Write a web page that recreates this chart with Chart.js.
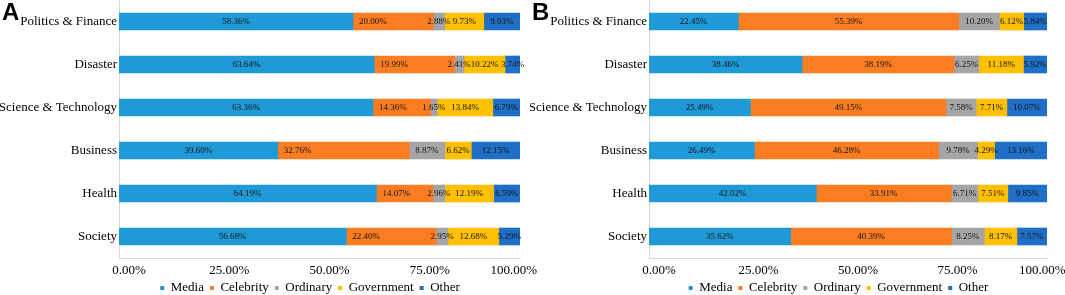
<!DOCTYPE html>
<html>
<head>
<meta charset="utf-8">
<script src="https://cdn.jsdelivr.net/npm/chart.js@4"></script>
<style>
  html, body { margin: 0; padding: 0; background: #fff; }
  #wrap { position: relative; width: 1065px; height: 295px; overflow: hidden; }
  .panel { position: absolute; top: 0; height: 295px; }
  #boxA { left: 0; width: 560px; }
  #boxB { left: 530px; width: 535px; }
  .tag { position: absolute; top: -2px; font: bold 24px "Liberation Sans", Arial, sans-serif; color: #000; }
</style>
</head>
<body>
<div id="wrap">
  <div class="panel" id="boxB"><canvas id="chartB"></canvas></div>
  <div class="panel" id="boxA"><canvas id="chartA"></canvas></div>
  <div class="tag" style="left:2px">A</div>
  <div class="tag" style="left:532px">B</div>
</div>
<script>
const categories = ['Politics & Finance', 'Disaster', 'Science & Technology', 'Business', 'Health', 'Society'];
const seriesNames = ['Media', 'Celebrity', 'Ordinary', 'Government', 'Other'];
const seriesColors = ['#1f9ad7', '#fb7d21', '#a5a5a5', '#ffc000', '#1f6fc6'];

// panel A
const mediaA = [58.36, 63.64, 63.36, 39.60, 64.19, 56.68];
const celebrityA = [20.00, 19.99, 14.36, 32.76, 14.07, 22.40];
const ordinaryA = [2.88, 2.41, 1.65, 8.87, 2.96, 2.95];
const governmentA = [9.73, 10.22, 13.84, 6.62, 12.19, 12.68];
const otherA = [9.03, 3.74, 6.79, 12.15, 6.59, 5.29];

// panel B
const mediaB = [22.45, 38.46, 25.49, 26.49, 42.02, 35.62];
const celebrityB = [55.39, 38.19, 49.15, 46.28, 33.91, 40.39];
const ordinaryB = [10.20, 6.25, 7.58, 9.78, 6.71, 8.25];
const governmentB = [6.12, 11.18, 7.71, 4.29, 7.51, 8.17];
const otherB = [5.84, 5.92, 10.07, 13.16, 9.85, 7.57];

const xTicks = [0, 25, 50, 75, 100];

const serif = '"Liberation Serif", "Times New Roman", serif';
Chart.defaults.font.family = serif;
Chart.defaults.color = '#000';

// draws the percentage in each segment
const segLabels = {
  id: 'segLabels',
  afterDatasetsDraw(chart, args, opts) {
    const ctx = chart.ctx;
    ctx.save();
    ctx.font = '9px ' + serif;
    ctx.fillStyle = '#111';
    ctx.textBaseline = 'middle';
    chart.data.datasets.forEach((ds, i) => {
      const meta = chart.getDatasetMeta(i);
      meta.data.forEach((bar, j) => {
        const txt = ds.data[j].toFixed(2) + '%';
        if ((opts.startAligned || []).includes(i)) {
          ctx.textAlign = 'left';
          ctx.fillText(txt, Math.min(bar.x, bar.base) + 6, bar.y);
        } else {
          ctx.textAlign = 'center';
          ctx.fillText(txt, (bar.x + bar.base) / 2, bar.y);
        }
      });
    });
    ctx.restore();
  }
};

// centre the legend under the labels + plot, not the whole canvas
const legendShift = {
  id: 'legendShift',
  afterLayout(chart) {
    const lg = chart.legend;
    lg.left = chart.chartArea.left - 19;
    lg.right = chart.chartArea.right;
    lg.width = lg.right - lg.left;
  }
};

function makeChart(id, values, padR, lastPad, startAligned) {
  const ctx = document.getElementById(id).getContext('2d');
  return new Chart(ctx, {
    type: 'bar',
    data: {
      labels: categories,
      datasets: values.map((v, i) => ({
        label: seriesNames[i],
        data: v,
        backgroundColor: seriesColors[i],
        borderWidth: 0,
        barThickness: 17
      }))
    },
    options: {
      indexAxis: 'y',
      responsive: true,
      maintainAspectRatio: false,
      animation: false,
      layout: { padding: { left: 0, right: padR, top: 0, bottom: -9.5 } },
      plugins: {
        legend: {
          position: 'bottom',
          labels: { boxWidth: 4, boxHeight: 4, padding: 6, font: { size: 13 } }
        },
        tooltip: { enabled: false },
        segLabels: { startAligned: startAligned }
      },
      scales: {
        x: {
          stacked: true,
          min: 0,
          max: 100,
          afterBuildTicks: (s) => { s.ticks = xTicks.map(v => ({ value: v })); },
          afterFit: (s) => { s.height = 17.5; s.paddingLeft = 0; s.paddingRight = 0; },
          grid: { display: false, drawTicks: false },
          border: { color: '#d9d9d9' },
          ticks: {
            padding: 5, labelOffset: 10, font: { size: 13 },
            callback: (v) => Number(v).toFixed(2) + '%' + (v === 100 ? lastPad : '')
          }
        },
        y: {
          stacked: true,
          afterFit: (s) => { s.width = 119; s.paddingTop = 0; s.paddingBottom = 0; },
          grid: { display: false, drawTicks: false },
          border: { color: '#d9d9d9' },
          ticks: { padding: 2, font: { size: 13 } }
        }
      }
    },
    plugins: [segLabels, legendShift]
  });
}

makeChart('chartA', [mediaA, celebrityA, ordinaryA, governmentA, otherA], 40, '          ', [1]);
makeChart('chartB', [mediaB, celebrityB, ordinaryB, governmentB, otherB], 18, '         ', []);
</script>
</body>
</html>
